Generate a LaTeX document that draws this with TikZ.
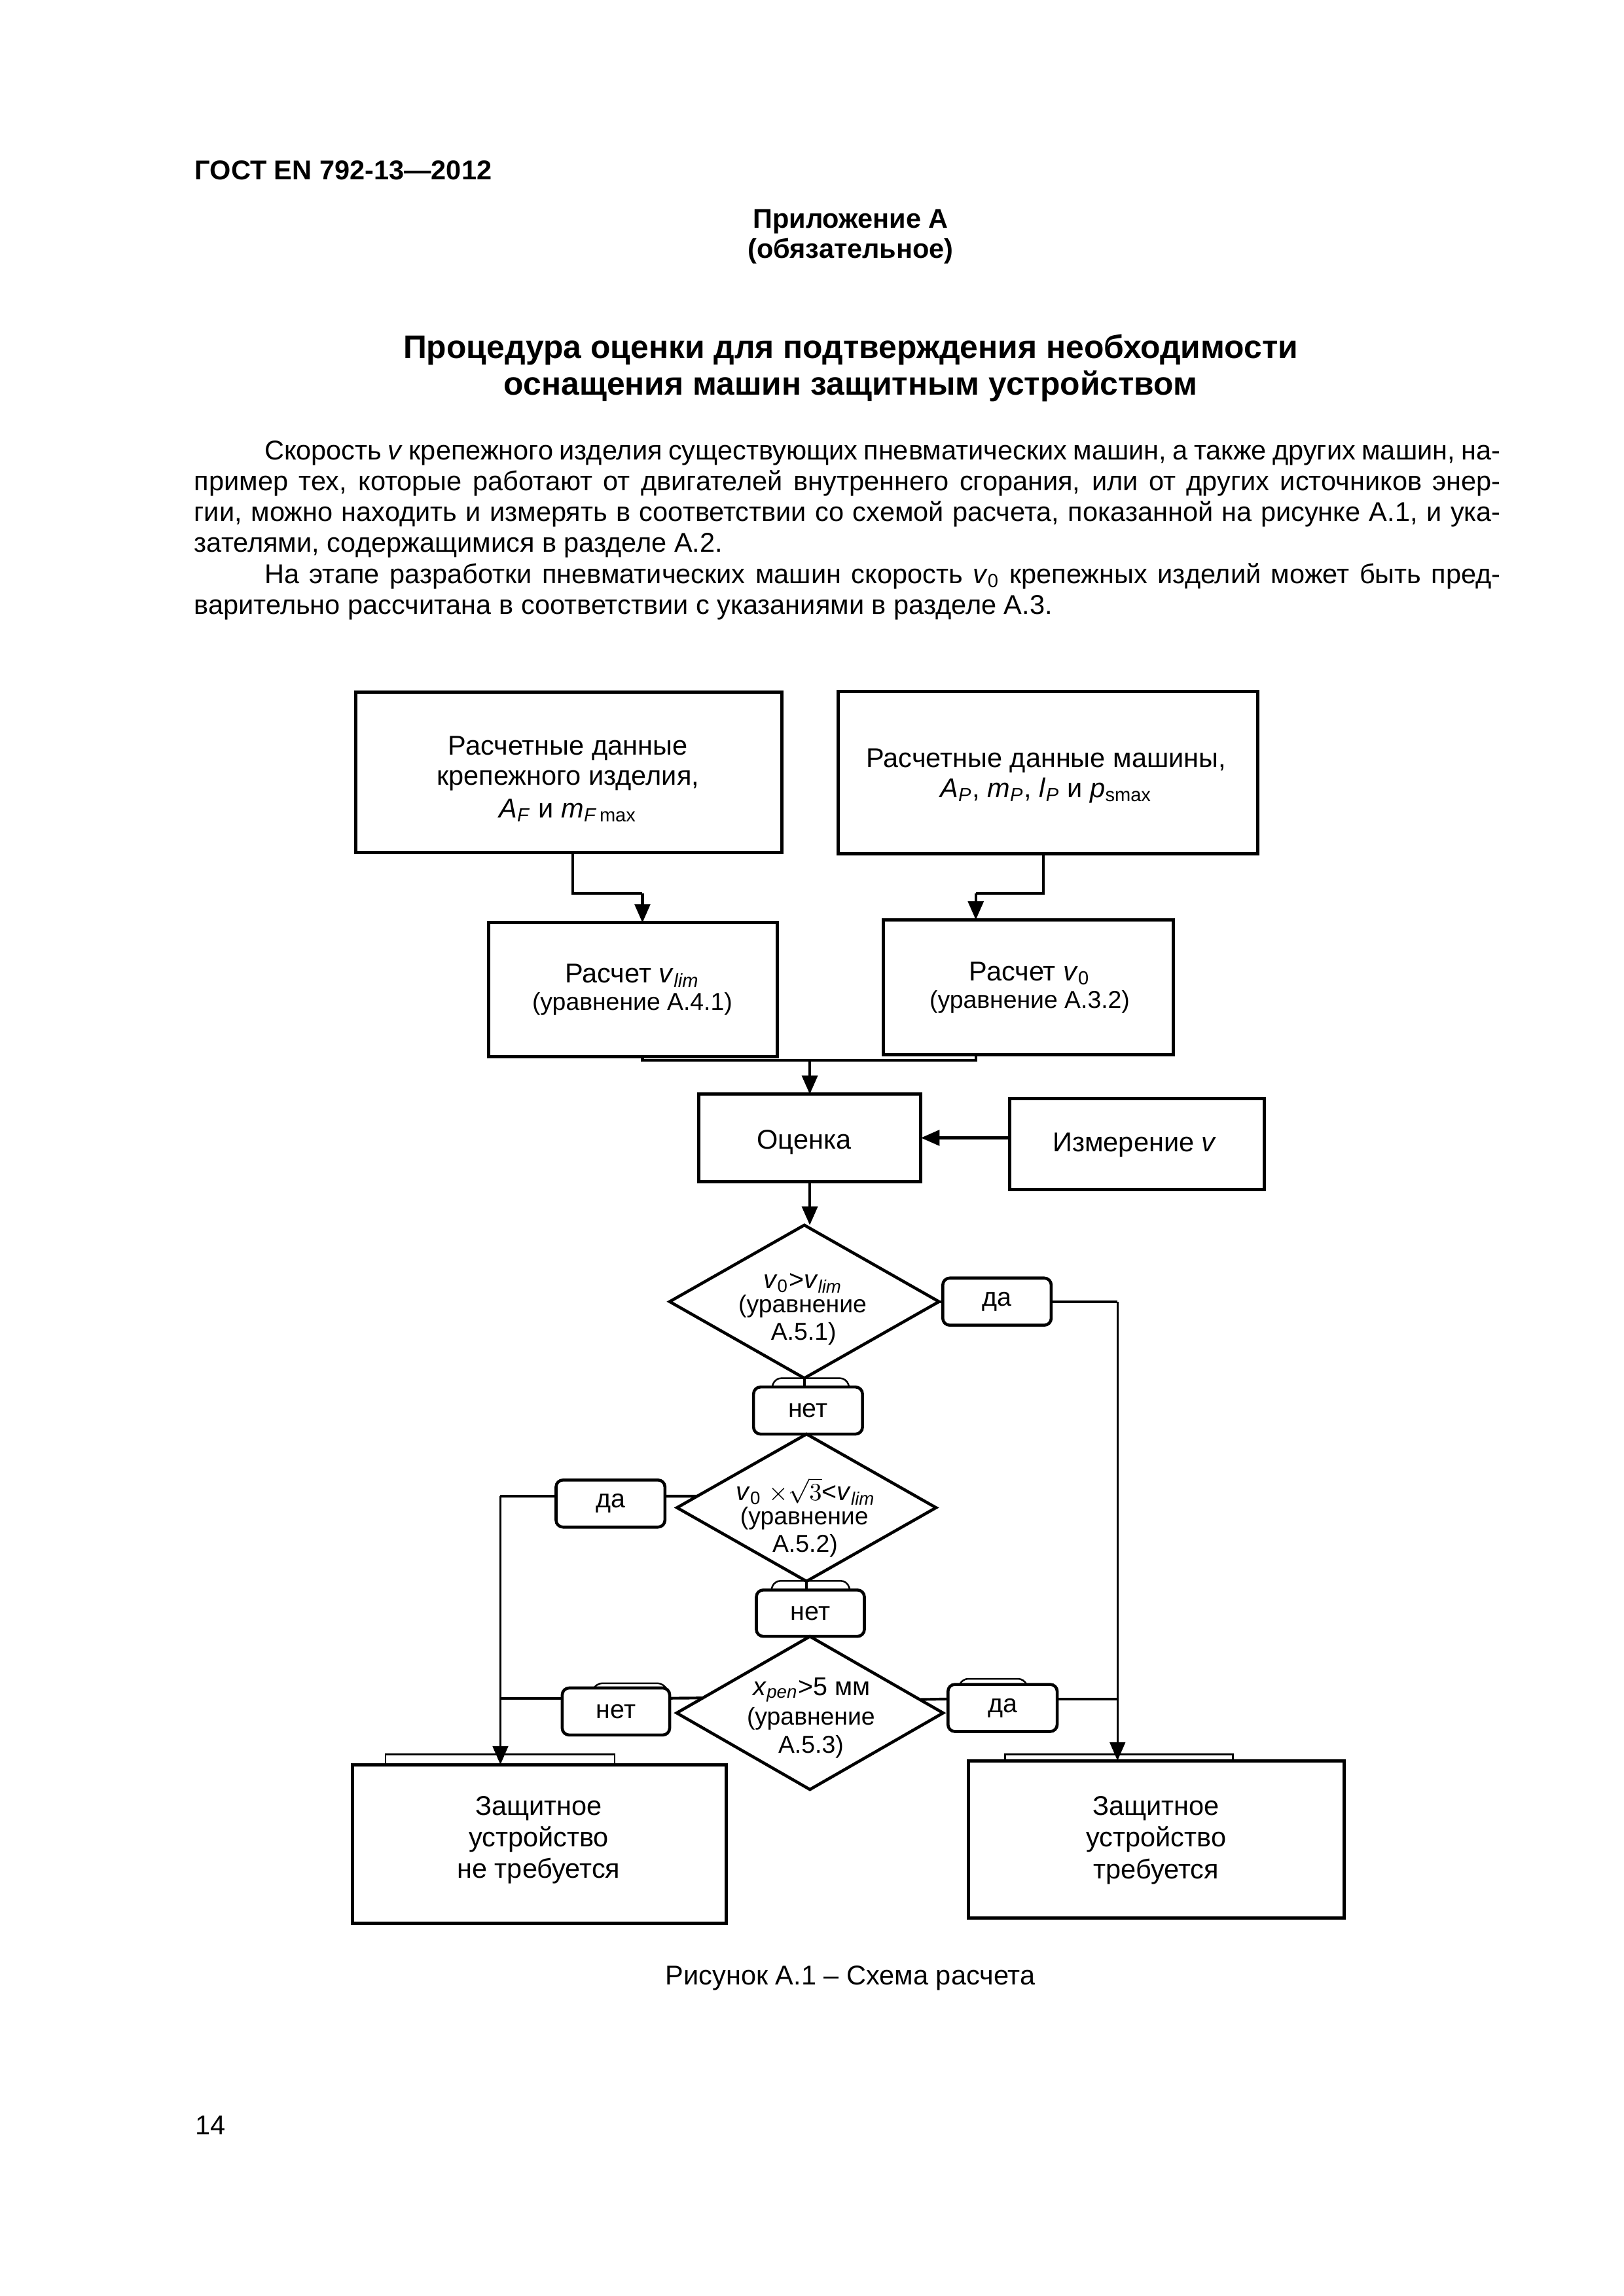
\documentclass[tikz,border=0pt]{standalone}
\usepackage{fontspec}
\setmainfont{Liberation Sans}
\usetikzlibrary{shapes.geometric,arrows.meta}
\newcommand\uu{0.19039mm}
\newcommand\fs[1]{\fontsize{#1}{#1}\selectfont}
\begin{document}
\begin{tikzpicture}[x=0.19039mm,y=-0.19039mm,
  box/.style={draw,line width=1.2pt,inner sep=0pt,outer sep=0pt},
  lab/.style={draw,rounded corners=0.9mm,line width=1.1pt,fill=white,inner sep=0pt,outer sep=0pt,minimum width=74*\uu,minimum height=32*\uu,font=\fs{9.5}},
  dia/.style={draw,diamond,line width=1.1pt,inner sep=0pt,outer sep=0pt},
  conn/.style={line width=1pt},
  thinl/.style={line width=0.8pt},
  arr/.style={-{Triangle[length=2.4mm,width=2mm]}},
  txt/.style={inner sep=0pt,outer sep=0pt,anchor=base,font=\fs{10}},
  stxt/.style={txt,font=\fs{9}},
  tabl/.style={line width=0.6pt,rounded corners=0.8mm},
]
\fill[white] (0,0) rectangle (1103,1560.2);
\useasboundingbox (0,0) rectangle (1103,1560.2);

% ---------- header and text ----------
\node[txt,anchor=base west,font=\bfseries\fs{10}] (hdr) at (132.5,121.9) {ГОСТ EN 792-13—2012};
\node[txt,font=\bfseries\fs{10}] (app) at (578,154.8) {Приложение А};
\node[txt,font=\bfseries\fs{10}] (oblig) at (578,175.5) {(обязательное)};
\node[txt,font=\bfseries\fs{12}] (t1) at (578,243.3) {Процедура оценки для подтверждения необходимости};
\node[txt,font=\bfseries\fs{12}] (t2) at (578,268.2) {оснащения машин защитным устройством};

\node[txt,anchor=base west] (p1) at (179.7,312.5) {\makebox[159.9mm][s]{Скорость \textit{v} крепежного изделия существующих пневматических машин, а также других машин, на-}};
\node[txt,anchor=base west] (p2) at (132,333.4) {\makebox[169mm][s]{пример тех, которые работают от двигателей внутреннего сгорания, или от других источников энер-}};
\node[txt,anchor=base west] (p3) at (132,354.4) {\makebox[169mm][s]{гии, можно находить и измерять в соответствии со схемой расчета, показанной на рисунке А.1, и ука-}};
\node[txt,anchor=base west] (p4) at (132,375.3) {зателями, содержащимися в разделе А.2.};
\node[txt,anchor=base west] (p5) at (179.7,396.6) {\makebox[159.9mm][s]{На этапе разработки пневматических машин скорость \textit{v}\textsubscript{0} крепежных изделий может быть пред-}};
\node[txt,anchor=base west] (p6) at (132,417.6) {варительно рассчитана в соответствии с указаниями в разделе А.3.};

% ---------- boxes ----------
\node[box,minimum width=289.5*\uu,minimum height=109*\uu] (A) at (386.3,524.9) {};
\node[box,minimum width=285.3*\uu,minimum height=110*\uu] (B) at (712,525) {};
\node[box,minimum width=195.8*\uu,minimum height=91*\uu] (C) at (430.1,672.5) {};
\node[box,minimum width=196.6*\uu,minimum height=91.5*\uu] (D) at (698.7,670.8) {};
\node[box,minimum width=151.1*\uu,minimum height=59.3*\uu] (E) at (550.2,773.2) {};
\node[box,minimum width=173*\uu,minimum height=62*\uu] (F) at (772.4,777.5) {};
\node[dia,minimum width=183*\uu,minimum height=104*\uu] (Q1) at (546.5,884.5) {};
\node[lab] (no1) at (549,958.5) {нет};
\node[dia,minimum width=176*\uu,minimum height=100*\uu] (Q2) at (548,1024.5) {};
\node[lab,minimum width=73.4*\uu,minimum height=31.5*\uu] (no2) at (550.6,1096.2) {нет};
\node[dia,minimum width=181*\uu,minimum height=104*\uu] (Q3) at (550.3,1164) {};
\node[lab,minimum width=73.7*\uu] (yes1) at (677.4,884.5) {да};
\node[lab] (yes2) at (414.8,1021.7) {да};
\node[lab,minimum width=73*\uu] (no3) at (418.5,1163) {нет};
\node[lab,minimum width=74.2*\uu] (yes3) at (681.2,1160.6) {да};
\node[box,minimum width=254.1*\uu,minimum height=107.8*\uu] (L) at (366.4,1253) {};
\node[box,minimum width=255.4*\uu,minimum height=107.1*\uu] (R) at (785.5,1250) {};

% ---------- box texts ----------
\node[txt] (a1) at (385.9,512.9) {Расчетные данные};
\node[txt] (a2) at (385.9,533.7) {крепежного изделия,};
\node[txt] (a3) at (385.9,555.5) {\textit{A}\textsubscript{\textit{F}} и \textit{m}\textsubscript{\textit{F}\,max}};
\node[txt] (b1) at (710.8,521.4) {Расчетные данные машины,};
\node[txt] (b2) at (710.8,542) {\textit{A}\textsubscript{\textit{P}}, \textit{m}\textsubscript{\textit{P}}, \textit{l}\textsubscript{\textit{P}} и \textit{p}\textsubscript{smax}};
\node[txt] (c1) at (429.6,668) {Расчет \textit{v}\textsubscript{\textit{lim}}};
\node[stxt] (c2) at (429.6,686.6) {(уравнение А.4.1)};
\node[txt] (d1) at (699.6,666.3) {Расчет \textit{v}\textsubscript{0}};
\node[stxt] (d2) at (699.6,685) {(уравнение А.3.2)};
\node[txt] (e1) at (546.3,780.6) {Оценка};
\node[txt] (f1) at (771,782.4) {Измерение \textit{v}};
\node[txt,font=\fs{9.5}] (q1a) at (545.5,875.3) {\textit{v}\textsubscript{0}>\textit{v}\textsubscript{\textit{lim}}};
\node[stxt] (q1b) at (545.3,891.8) {(уравнение};
\node[stxt] (q1c) at (546,910.5) {А.5.1)};
\node[txt,font=\fs{9.5}] (q2a) at (547.5,1019.5) {\textit{v}\textsubscript{0} $\times\sqrt{3}$<\textit{v}\textsubscript{\textit{lim}}};
\node[stxt] (q2b) at (546.5,1036) {(уравнение};
\node[stxt] (q2c) at (547,1054.7) {А.5.2)};
\node[txt,font=\fs{9.5}] (q3a) at (551.5,1152.2) {\textit{x}\textsubscript{\textit{pen}}>5 мм};
\node[stxt] (q3b) at (551,1172) {(уравнение};
\node[stxt] (q3c) at (551,1191.2) {А.5.3)};
\node[txt] (l1) at (366,1233.6) {Защитное};
\node[txt] (l2) at (366,1254.9) {устройство};
\node[txt] (l3) at (366,1276.3) {не требуется};
\node[txt] (r1) at (785.5,1233.4) {Защитное};
\node[txt] (r2) at (785.5,1255) {устройство};
\node[txt] (r3) at (785.5,1276.5) {требуется};

\node[txt] (cap) at (577.8,1348.5) {Рисунок А.1 – Схема расчета};
\node[txt,anchor=base west] (pg) at (132.6,1450.7) {14};

% ---------- connectors ----------
\coordinate (jA) at (436.5,607);
\coordinate (jB) at (663,607);
\coordinate (jm) at (550.2,720.5);
\draw[conn] ([xshift=0.57mm]A.south) |- (jA);
\draw[conn,arr] (jA) -- (jA |- C.north);
\draw[conn] ([xshift=-0.57mm]B.south) |- (jB);
\draw[conn,arr] (jB) -- (jB |- D.north);
\draw[conn] (jA |- C.south) |- (jm);
\draw[conn] (jB |- D.south) |- (jm);
\draw[conn,arr] (jm) -- (jm |- E.north);
\draw[conn,arr] (E.east -| F.west) -- (E.east);
\draw[conn,arr] (E.south) -- (E.south |- Q1.north);

\coordinate (rv) at (759.3,884.5);
\draw[conn] (Q1.east) -- (yes1.west);
\draw[conn] (yes1.east) -- (rv);
\draw[thinl,arr] (rv) -- (rv |- R.north);
\draw[conn] (Q1.south) -- (Q1.south |- no1.north);

\coordinate (lv) at (340,1016.7);
\draw[conn] (Q2.174) -- (lv -| yes2.east);
\draw[conn] (lv -| yes2.west) -- (lv);
\draw[thinl,arr] (lv) -- (lv |- L.north);
\draw[conn] (Q2.south) -- (Q2.south |- no2.north);

\coordinate (n3) at (340,1154);
\draw[conn] (Q3.172) -- (n3 -| no3.east);
\draw[conn] (n3 -| no3.west) -- (n3);
\coordinate (y3) at (759.3,1154.5);
\draw[conn] (Q3.7) -- (y3 -| yes3.west);
\draw[conn] (y3 -| yes3.east) -- (y3);

% ---------- small tab marks on the boxes ----------
\draw[tabl] (524.6,942.5) -- (526.5,936.5) -- (575,936.5) -- (577,942.5);
\draw[tabl] (524,1080.4) -- (526,1074.2) -- (575.5,1074.2) -- (577.5,1080.4);
\draw[tabl] (403.5,1147) -- (405,1143.8) -- (451,1143.8) -- (452.5,1147);
\draw[tabl] (652,1144.8) -- (653.5,1140.8) -- (696,1140.8) -- (697.6,1144.8);
\draw[line width=0.6pt] (261.9,1199.1) -- (261.9,1192.2) -- (417.6,1192.2) -- (417.6,1199.1);
\draw[line width=0.6pt] (682.9,1196.4) -- (682.9,1192.2) -- (837.6,1192.2) -- (837.6,1196.4);
\end{tikzpicture}
\end{document}
